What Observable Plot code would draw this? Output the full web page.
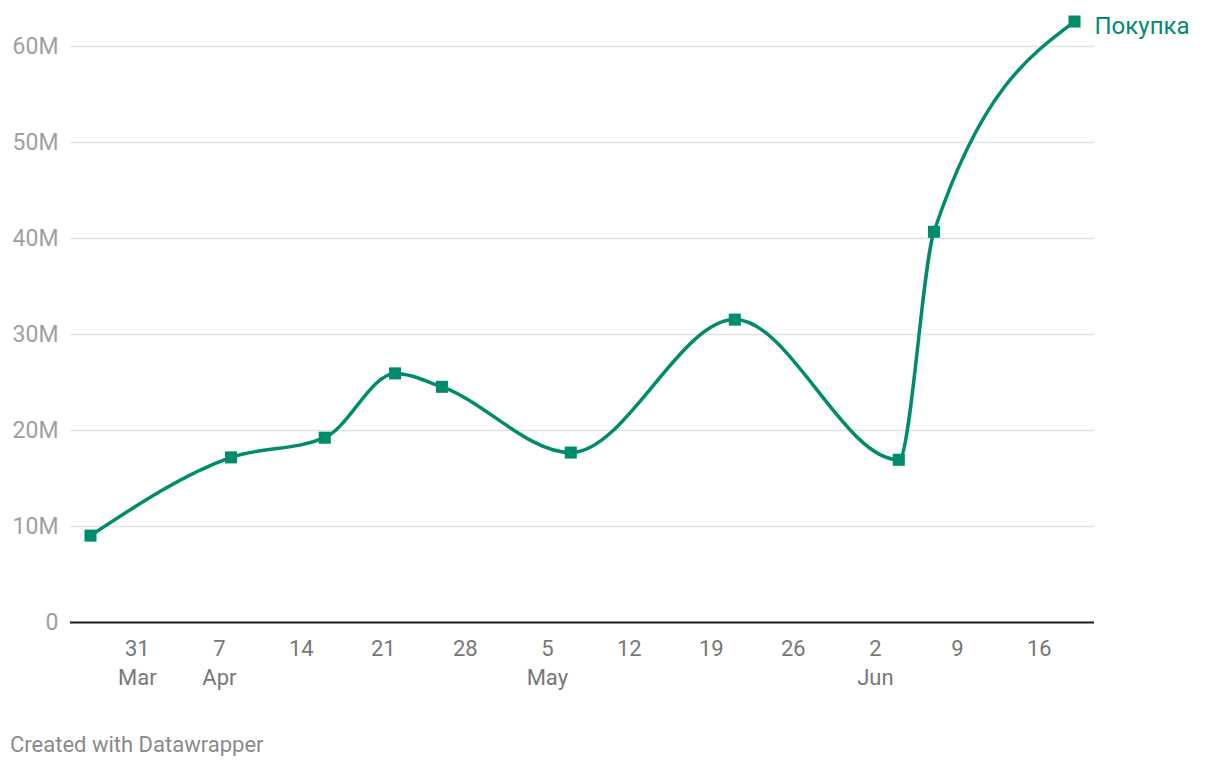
<!DOCTYPE html>
<html>
<head>
<meta charset="utf-8">
<script src="https://cdn.jsdelivr.net/npm/d3@7"></script>
<script src="https://cdn.jsdelivr.net/npm/@observablehq/plot@0.6"></script>
<style>
  body { margin: 0; background: #fff; font-family: Roboto, sans-serif; }
  #caption { font-family: Roboto, sans-serif; font-size: 22px; color: #8a8a8a; margin: 34px 0 0 10px; line-height: 22px; }
</style>
</head>
<body>
<div id="chart"></div>
<div id="caption">Created with Datawrapper</div>
<script>
const seriesName = "Покупка";
const dates = ["2019-03-27","2019-04-08","2019-04-16","2019-04-22","2019-04-26","2019-05-07","2019-05-21","2019-06-04","2019-06-07","2019-06-19"];
const values = [9.05, 17.2, 19.25, 25.95, 24.55, 17.7, 31.55, 16.95, 40.7, 62.6];
const tickDates = ["2019-03-31","2019-04-07","2019-04-14","2019-04-21","2019-04-28","2019-05-05","2019-05-12","2019-05-19","2019-05-26","2019-06-02","2019-06-09","2019-06-16"];
const monthLabels = {"2019-03-31": "Mar", "2019-04-07": "Apr", "2019-05-05": "May", "2019-06-02": "Jun"};
const yTicks = [0, 10, 20, 30, 40, 50, 60];

const color = "#008c6c";
const data = dates.map((d, i) => ({date: new Date(d + "T00:00:00Z"), value: values[i]}));
const ticks = tickDates.map(d => new Date(d + "T00:00:00Z"));
const key = d => d.toISOString().slice(0, 10);
const last = data[data.length - 1];

const chart = Plot.plot({
  width: 1220,
  height: 700,
  marginLeft: 70,
  marginRight: 126,
  marginTop: 46,
  marginBottom: 78,
  insetLeft: 20,
  insetRight: 20,
  style: {fontFamily: "Roboto, sans-serif", background: "#fff"},
  x: {type: "utc", domain: [data[0].date, last.date]},
  y: {domain: [0, 60]},
  marks: [
    Plot.gridY(yTicks.slice(1), {stroke: "#e2e2e2", strokeOpacity: 1, strokeWidth: 1.5}),
    Plot.axisY(yTicks, {tickSize: 0, tickPadding: 12, fontSize: 23, fill: "#a0a0a0",
      tickFormat: d => d === 0 ? "0" : d + "M", label: null}),
    Plot.axisX(ticks, {tickSize: 0, tickPadding: 18, fontSize: 22, fill: "#777",
      tickFormat: d => String(d.getUTCDate()), label: null}),
    Plot.axisX(ticks, {tickSize: 0, tickPadding: 47, fontSize: 22, fill: "#777",
      tickFormat: d => monthLabels[key(d)] || "", label: null}),
    Plot.ruleY([0], {stroke: "#1a1a1a", strokeWidth: 2}),
    Plot.line(data, {x: "date", y: "value", stroke: color, strokeWidth: 3.5, curve: "monotone-x"}),
    Plot.dot(data, {x: "date", y: "value", symbol: "square", r: 6.8, fill: color, stroke: "none"}),
    Plot.text([last], {x: "date", y: "value", text: () => seriesName, textAnchor: "start",
      dx: 20, dy: 5, fontSize: 24, fill: color})
  ]
});
document.getElementById("chart").appendChild(chart);
</script>
</body>
</html>
